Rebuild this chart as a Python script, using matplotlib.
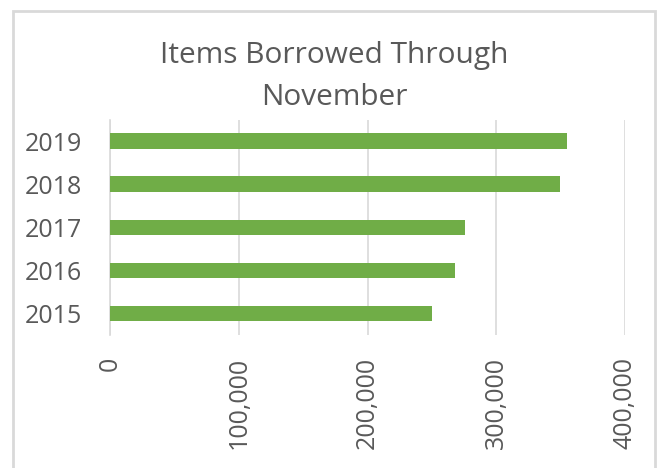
import matplotlib
matplotlib.use("Agg")
import matplotlib.pyplot as plt
from matplotlib.patches import Rectangle
from matplotlib.ticker import FuncFormatter

years = ["2015", "2016", "2017", "2018", "2019"]
borrowed = [250000, 268000, 276000, 349500, 354700]
xticks = [0, 100000, 200000, 300000, 400000]

plt.rcParams['font.family'] = ['Open Sans', 'DejaVu Sans']
txt = '#595959'
grid = '#D9D9D9'

fig = plt.figure(figsize=(6.57, 4.68), dpi=100)
ax = fig.add_axes([110/657, 1-335/468, (625-110)/657, (335-119.6)/468])

ax.barh(years, borrowed, height=0.36, color='#70AD47', zorder=3)
ax.set_xlim(0, 400000)
ax.set_ylim(-0.5, 4.5)
ax.set_xticks(xticks)
ax.xaxis.set_major_formatter(FuncFormatter(lambda v, p: f"{int(v):,}"))
ax.tick_params(axis='x', labelrotation=90, length=0, labelsize=18, colors=txt, pad=16)
ax.tick_params(axis='y', length=0, labelsize=18, colors=txt, pad=20)
ax.grid(axis='x', color=grid, linewidth=1.2, zorder=0)
for s in ['top', 'right', 'bottom']:
    ax.spines[s].set_visible(False)
ax.spines['left'].set_color(grid)
ax.spines['left'].set_linewidth(1.2)

fig.text(334/657, 1-63/468, "Items Borrowed Through", ha='center', va='baseline',
         fontsize=21.5, color=txt)
fig.text(334/657, 1-105/468, "November", ha='center', va='baseline',
         fontsize=21.5, color=txt)

fig.patches.append(Rectangle((13/657, -0.05), (655-13)/657, 1.05-11/468,
                             transform=fig.transFigure, fill=False,
                             edgecolor='#D9D9D9', linewidth=2))

fig.savefig("out.png", dpi=100)
